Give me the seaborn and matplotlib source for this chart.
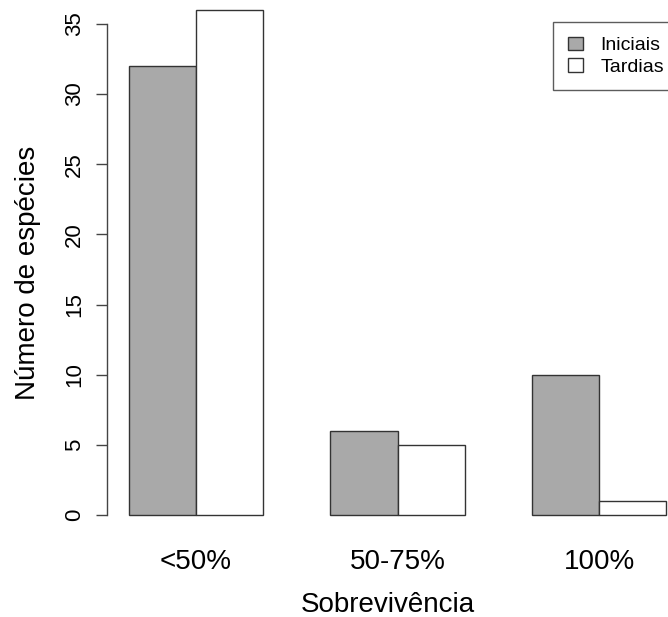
import pandas as pd
import numpy as np
import matplotlib
matplotlib.use("Agg")
import matplotlib.pyplot as plt
from matplotlib.patches import Patch
import seaborn as sns

# dados
categorias = ["<50%", "50-75%", "100%"]
grupos = ["Iniciais", "Tardias"]
iniciais = [32, 6, 10]
tardias = [36, 5, 1]

df = pd.DataFrame({
    "sobrevivencia": categorias * 2,
    "grupo": ["Iniciais"] * 3 + ["Tardias"] * 3,
    "n": iniciais + tardias,
})

sns.set_style("white")
plt.rcParams["font.family"] = ["Liberation Sans", "DejaVu Sans"]
plt.rcParams["text.color"] = "black"
plt.rcParams["axes.labelcolor"] = "black"
plt.rcParams["xtick.color"] = "black"
plt.rcParams["ytick.color"] = "black"

W, H = 668, 617
fig = plt.figure(figsize=(W / 100, H / 100), dpi=100)
# eixo ocupa de x=107px até a borda direita, de y=0 até 535px
ax = fig.add_axes([107 / W, 1 - 535 / H, (W - 107) / W, 535 / H])

cores = {"Iniciais": "#a9a9a9", "Tardias": "#ffffff"}
sns.barplot(data=df, x="sobrevivencia", y="n", hue="grupo", order=categorias,
            hue_order=grupos, palette=cores, width=2 / 3, gap=0,
            edgecolor="#333333", linewidth=1.0, saturation=1, legend=False, ax=ax)

px = 201.5  # pixels por categoria
ax.set_xlim((107 - 196) / px, (W - 196) / px)
uy = 14.03  # pixels por unidade
ax.set_ylim(-20 / uy, 515 / uy)

for s in ["top", "right", "bottom"]:
    ax.spines[s].set_visible(False)
ax.spines["left"].set_bounds(0, 35)
ax.spines["left"].set_color("#444444")
ax.spines["left"].set_linewidth(1.0)

ax.set_yticks(range(0, 36, 5))
ax.tick_params(axis="y", left=True, length=8, width=1.0, color="#444444",
               labelsize=16, pad=8, labelcolor="black")
for lab in ax.get_yticklabels():
    lab.set_rotation(90)
    lab.set_va("center")
ax.tick_params(axis="x", bottom=False, length=0, labelsize=20, pad=10,
               labelcolor="black")

ax.set_xlabel("Sobrevivência", fontsize=20, labelpad=12, color="black")
ax.set_ylabel("Número de espécies", fontsize=20, color="black")
ax.yaxis.set_label_coords(-0.118, 0.49)

handles = [Patch(facecolor=cores[g], edgecolor="#333333", linewidth=1.0, label=g)
           for g in grupos]
leg = fig.legend(handles=handles, loc="upper left",
                 bbox_to_anchor=(553 / W, 1 - 22 / H), bbox_transform=fig.transFigure,
                 fontsize=14, frameon=True, fancybox=False, borderpad=0.75,
                 labelspacing=0.2, handlelength=0.8, handleheight=0.7,
                 handletextpad=0.9, borderaxespad=0)
leg.get_frame().set_edgecolor("#333333")
leg.get_frame().set_linewidth(1.0)
for t in leg.get_texts():
    t.set_color("black")

fig.savefig("out.png", dpi=100)
